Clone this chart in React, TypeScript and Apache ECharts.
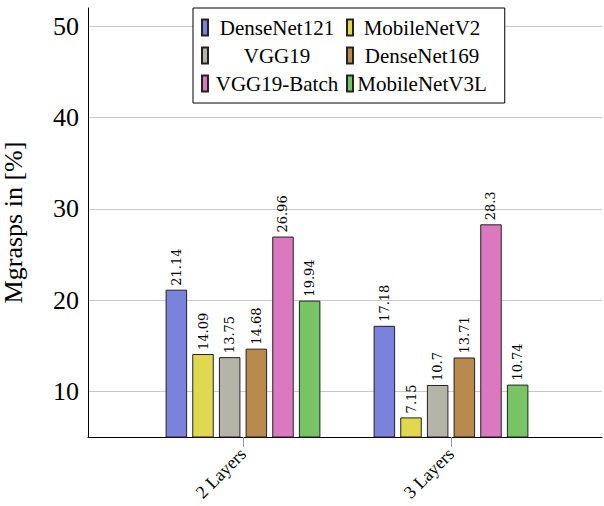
import React, { useEffect, useRef } from 'react';
import * as echarts from 'echarts';

const categories = ['2 Layers', '3 Layers'];
const seriesNames = ['DenseNet121', 'MobileNetV2', 'VGG19', 'DenseNet169', 'VGG19-Batch', 'MobileNetV3L'];
const denseNet121 = [21.14, 17.18];
const mobileNetV2 = [14.09, 7.15];
const vgg19 = [13.75, 10.7];
const denseNet169 = [14.68, 13.71];
const vgg19Batch = [26.96, 28.3];
const mobileNetV3L = [19.94, 10.74];
const yTicks = [10, 20, 30, 40, 50];
const colors = ['#7a82dc', '#e0d84e', '#b4b4a8', '#b98a4e', '#dc78be', '#78c464'];

const allValues = [denseNet121, mobileNetV2, vgg19, denseNet169, vgg19Batch, mobileNetV3L];

export default function App() {
  const ref = useRef<HTMLDivElement>(null);
  useEffect(() => {
    document.body.style.margin = '0';
    const chart = echarts.init(ref.current!, null, { renderer: 'svg' });
    const serif = 'Liberation Serif';
    const serifLabels = 'DejaVu Serif';
    chart.setOption({
      animation: false,
      backgroundColor: '#fff',
      grid: [
        { left: 88, right: 2, top: 8, bottom: 69, outerBoundsMode: 'none', containLabel: false },
        { left: 139, right: 49, top: 8, bottom: 69, outerBoundsMode: 'none', containLabel: false },
      ],
      legend: {
        data: seriesNames,
        left: 193,
        top: 8,
        width: 330,
        orient: 'horizontal',
        padding: [8, 18, 8, 8],
        itemGap: 5,
        itemWidth: 6,
        itemHeight: 16,
        icon: 'rect',
        selectedMode: false,
        borderColor: '#000',
        borderWidth: 1,
        backgroundColor: '#fff',
        formatter: (name: string) => `{t|${name}}`,
        textStyle: {
          lineHeight: 23,
          rich: {
            t: {
              width: 128,
              height: 23,
              align: 'center',
              fontSize: 21,
              fontFamily: serif,
              color: '#000',
              lineHeight: 23,
            },
          },
        },
      },
      xAxis: [
        {
          gridIndex: 0,
          type: 'value',
          min: 0,
          max: 1,
          splitLine: { show: false },
          axisLine: { show: true, onZero: false, lineStyle: { color: '#000', width: 1 } },
          axisTick: { show: false },
          axisLabel: { show: false },
        },
        {
          gridIndex: 1,
          type: 'category',
          data: categories,
          boundaryGap: true,
          splitLine: { show: false },
          axisLine: { show: false },
          axisTick: { show: true, alignWithLabel: true, length: 10, lineStyle: { color: '#999' } },
          axisLabel: {
            rotate: 45,
            margin: 14,
            fontFamily: serif,
            fontSize: 18,
            color: '#000',
          },
        },
      ],
      yAxis: [
        {
          gridIndex: 0,
          type: 'value',
          min: 5,
          max: 52,
          name: 'Mgrasps in [%]',
          nameLocation: 'middle',
          nameGap: 62,
          nameTextStyle: { fontFamily: serif, fontSize: 26, color: '#000' },
          axisLine: { show: true, onZero: false, lineStyle: { color: '#000', width: 1 } },
          axisTick: { show: false, customValues: yTicks },
          axisLabel: {
            customValues: yTicks,
            margin: 9,
            fontFamily: serif,
            fontSize: 26,
            color: '#000',
          },
          splitLine: { show: true, lineStyle: { color: '#c8c8c8', width: 1 } },
        },
        {
          gridIndex: 1,
          type: 'value',
          min: 5,
          max: 52,
          show: false,
          splitLine: { show: false },
        },
      ],
      series: seriesNames.map((name, si) => ({
        name,
        type: 'bar',
        xAxisIndex: 1,
        yAxisIndex: 1,
        barWidth: 21.5,
        barGap: '24%',
        data: allValues[si],
        itemStyle: { color: colors[si], borderColor: '#222', borderWidth: 1 },
        label: {
          show: true,
          position: 'top',
          rotate: 90,
          align: 'left',
          verticalAlign: 'middle',
          distance: 4,
          fontFamily: serifLabels,
          fontSize: 13,
          color: '#000',
        },
      })),
    });
    return () => chart.dispose();
  }, []);
  return <div ref={ref} style={{ width: 604, height: 506 }} />;
}
